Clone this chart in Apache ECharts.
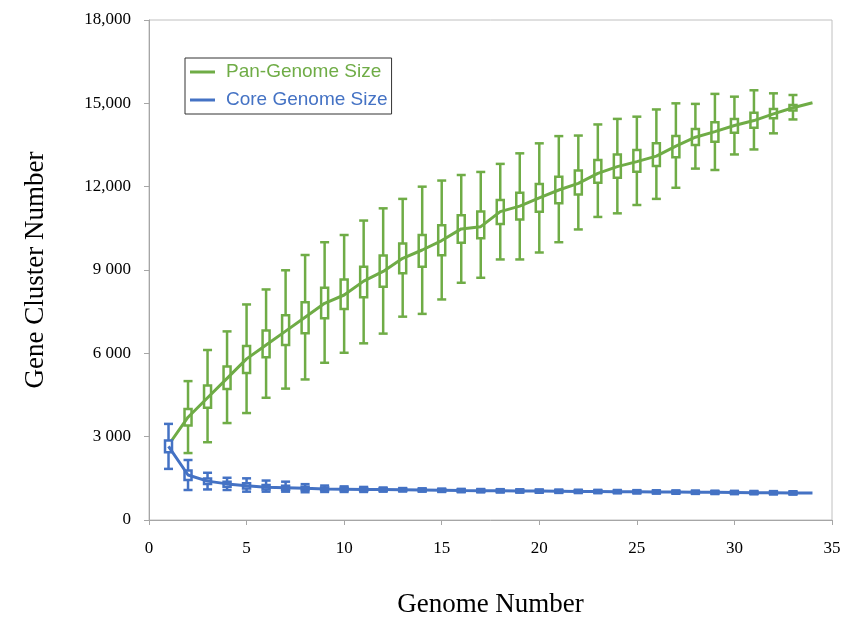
<!DOCTYPE html>
<html>
<head>
<meta charset="utf-8">
<script src="https://cdn.jsdelivr.net/npm/echarts@6/dist/echarts.min.js"></script>
<style>
  html, body { margin: 0; padding: 0; background: #fff; }
  #main { width: 844px; height: 621px; }
</style>
</head>
<body>
<div id="main"></div>
<script>
// genome counts 1..34
var genomeN = [1, 2, 3, 4, 5, 6, 7, 8, 9, 10, 11, 12, 13, 14, 15, 16, 17, 18, 19, 20,
  21, 22, 23, 24, 25, 26, 27, 28, 29, 30, 31, 32, 33, 34];

// pan-genome (null = no box drawn)
var panMedian = [2700, 3700, 4400, 5100, 5800, 6300, 6800, 7300, 7800, 8100, 8600, 8950, 9420, 9720, 10060, 10480, 10560,
  11100, 11300, 11600, 11880, 12120, 12480, 12720, 12900, 13100, 13460, 13780, 13980, 14200, 14380, 14620, 14840, 15020];
var panQ3 = [null, 4000, 4840, 5530, 6260, 6820, 7370, 7840, 8360, 8660, 9120, 9520, 9950, 10260, 10610, 10970, 11110,
  11520, 11780, 12100, 12360, 12580, 12960, 13160, 13320, 13560, 13820, 14080, 14320, 14440, 14660, 14800, 14940, null];
var panQ1 = [null, 3400, 4040, 4720, 5290, 5860, 6300, 6720, 7260, 7600, 8020, 8400, 8880, 9120, 9530, 9980, 10140,
  10660, 10820, 11100, 11400, 11720, 12140, 12320, 12540, 12740, 13060, 13500, 13620, 13940, 14120, 14460, 14740, null];
var panMax = [null, 5000, 6120, 6790, 7760, 8300, 8990, 9540, 10000, 10260, 10780, 11220, 11560, 12000, 12220, 12420, 12530,
  12820, 13200, 13560, 13820, 13840, 14240, 14440, 14520, 14780, 15000, 14980, 15340, 15240, 15470, 15360, 15300, null];
var panMin = [null, 2410, 2800, 3490, 3850, 4400, 4730, 5060, 5660, 6020, 6360, 6710, 7320, 7420, 7940, 8540, 8720,
  9380, 9380, 9630, 10000, 10460, 10910, 11040, 11340, 11560, 11960, 12650, 12600, 13160, 13340, 13920, 14420, null];

// core genome
var coreMedian = [2650, 1620, 1400, 1300, 1230, 1180, 1165, 1140, 1120, 1110, 1100, 1095, 1090, 1080, 1070, 1060, 1055,
  1050, 1045, 1040, 1035, 1030, 1025, 1020, 1015, 1010, 1005, 1000, 995, 990, 985, 980, 975, 970];
var coreQ3 = [2860, 1780, 1490, 1380, 1320, 1260, 1230, 1200, 1170, 1160, 1150, 1140, 1130, 1120, 1110, 1100, 1095,
  1090, 1085, 1080, 1075, 1070, 1065, 1060, 1055, 1050, 1045, 1040, 1035, 1030, 1025, 1020, 1015, null];
var coreQ1 = [2440, 1440, 1300, 1200, 1130, 1100, 1090, 1080, 1070, 1060, 1050, 1050, 1050, 1040, 1030, 1020, 1015,
  1010, 1005, 1000, 995, 990, 985, 980, 975, 970, 965, 960, 955, 950, 945, 940, 935, null];
var coreMax = [3460, 2160, 1700, 1520, 1500, 1420, 1380, 1290, 1240, 1210, 1190, 1170, 1150, 1140, 1130, 1120, 1115,
  1110, 1105, 1100, 1095, 1090, 1085, 1080, 1075, 1070, 1065, 1060, 1055, 1050, 1045, 1040, 1035, null];
var coreMin = [1840, 1080, 1100, 1080, 1020, 1020, 1020, 1000, 1010, 1010, 1010, 1020, 1025, 1020, 1010, 1000, 995,
  990, 985, 980, 975, 970, 965, 960, 955, 950, 945, 940, 935, 930, 925, 920, 915, null];

var yTickLabels = ['0', '3 000', '6 000', '9 000', '12,000', '15,000', '18,000'];

var green = '#6fac46';
var blue = '#4472c4';

function boxData(minA, q1A, q3A, maxA) {
    var out = [];
    genomeN.forEach(function (n, i) {
        if (q1A[i] == null) return;
        out.push([n, minA[i], q1A[i], q3A[i], maxA[i]]);
    });
    return out;
}

function lineData(arr) {
    return genomeN.map(function (n, i) { return [n, arr[i]]; });
}

// draw whisker + caps + box for one genome count
function boxRenderer(color) {
    return function (params, api) {
        var x = api.value(0);
        var pMin = api.coord([x, api.value(1)]);
        var pQ1 = api.coord([x, api.value(2)]);
        var pQ3 = api.coord([x, api.value(3)]);
        var pMax = api.coord([x, api.value(4)]);
        var hw = 4.5;
        var st = { stroke: color, lineWidth: 2.5, fill: null };
        return {
            type: 'group',
            children: [
                { type: 'line', shape: { x1: pMin[0], y1: pMin[1], x2: pMax[0], y2: pMax[1] }, style: st },
                { type: 'line', shape: { x1: pMin[0] - hw, y1: pMin[1], x2: pMin[0] + hw, y2: pMin[1] }, style: st },
                { type: 'line', shape: { x1: pMax[0] - hw, y1: pMax[1], x2: pMax[0] + hw, y2: pMax[1] }, style: st },
                {
                    type: 'rect',
                    shape: { x: pQ3[0] - 3.5, y: pQ3[1], width: 7, height: pQ1[1] - pQ3[1] },
                    style: { stroke: color, lineWidth: 2.5, fill: '#fff' }
                }
            ]
        };
    };
}

var myChart = echarts.init(document.getElementById('main'));
var axisGray = '#a6a6a6';
var option = {
    backgroundColor: '#fff',
    animation: false,
    grid: {
        left: 149, right: 12, top: 20, bottom: 101,
        outerBoundsMode: 'none',
        show: true, borderColor: '#c0c0c0', borderWidth: 1
    },
    legend: {
        left: 185,
        top: 58,
        orient: 'vertical',
        icon: 'rect',
        itemWidth: 25,
        itemHeight: 3,
        itemGap: 8,
        padding: [4, 4, 4, 5],
        borderColor: '#333',
        borderWidth: 1,
        textStyle: { fontFamily: 'Liberation Sans', fontSize: 19, lineHeight: 20, padding: [0, 0, 0, 6] },
        data: [
            { name: 'Pan-Genome Size', textStyle: { color: green } },
            { name: 'Core Genome Size', textStyle: { color: blue } }
        ]
    },
    xAxis: {
        type: 'value',
        min: 0, max: 35, interval: 5,
        name: 'Genome Number',
        nameLocation: 'middle',
        nameGap: 71,
        nameTextStyle: { fontFamily: 'Liberation Serif', fontSize: 27, color: '#000' },
        axisLine: { lineStyle: { color: axisGray, width: 1 } },
        axisTick: { show: true, length: 5, lineStyle: { color: axisGray } },
        axisLabel: { fontFamily: 'Liberation Serif', fontSize: 17, color: '#000', margin: 20 },
        splitLine: { show: false }
    },
    yAxis: {
        type: 'value',
        min: 0, max: 18000, interval: 3000,
        name: 'Gene Cluster Number',
        nameLocation: 'middle',
        nameGap: 100,
        nameTextStyle: { fontFamily: 'Liberation Serif', fontSize: 27, color: '#000' },
        axisLine: { show: true, lineStyle: { color: axisGray, width: 1 } },
        axisTick: { show: true, length: 5, lineStyle: { color: axisGray } },
        axisLabel: {
            fontFamily: 'Liberation Serif', fontSize: 17, color: '#000', margin: 18,
            formatter: function (v) { return yTickLabels[Math.round(v / 3000)]; }
        },
        splitLine: { show: false }
    },
    series: [
        {
            name: 'panBox', type: 'custom', z: 2,
            renderItem: boxRenderer(green),
            data: boxData(panMin, panQ1, panQ3, panMax)
        },
        {
            name: 'Pan-Genome Size', type: 'line', z: 3,
            color: green, showSymbol: false, symbol: 'none',
            lineStyle: { width: 3, color: green },
            data: lineData(panMedian)
        },
        {
            name: 'coreBox', type: 'custom', z: 4,
            renderItem: boxRenderer(blue),
            data: boxData(coreMin, coreQ1, coreQ3, coreMax)
        },
        {
            name: 'Core Genome Size', type: 'line', z: 5,
            color: blue, showSymbol: false, symbol: 'none',
            lineStyle: { width: 3, color: blue },
            data: lineData(coreMedian)
        }
    ]
};
myChart.setOption(option);
</script>
</body>
</html>
